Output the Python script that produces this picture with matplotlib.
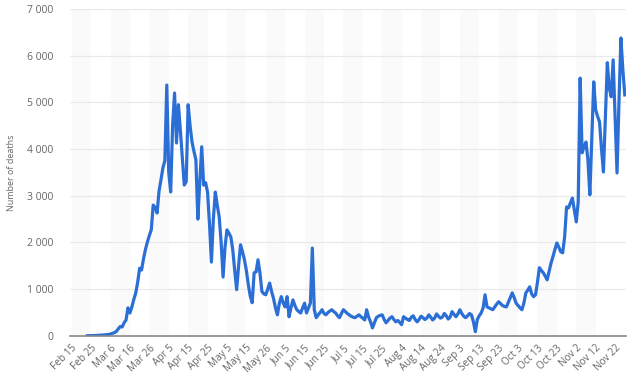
import matplotlib
matplotlib.use("Agg")
import matplotlib.pyplot as plt
import pandas as pd

# daily deaths, starting 2020-02-23
first_day = "2020-02-23"
deaths = [
    3, 5, 5, 6, 8, 10, 12, 15, 18, 22, 25, 30, 40, 55, 70, 95, 150, 200, 190, 280, 340,
    600, 490, 620, 780, 920, 1150, 1450, 1410, 1650, 1850, 2010, 2150, 2270, 2800, 2750,
    2630, 3100, 3340, 3600, 3750, 5370, 3500, 3080, 4500, 5200, 4130, 4950, 4400, 3800,
    3230, 3300, 4950, 4500, 4150, 3950, 3770, 2500, 3300, 4050, 3230, 3280, 3080, 2400,
    1580, 2500, 3080, 2800, 2550, 2000, 1260, 1900, 2270, 2200, 2120, 1840, 1400, 990,
    1500, 1950, 1800, 1630, 1400, 1100, 850, 710, 1350, 1370, 1630, 1350, 950, 900, 880,
    1000, 1130, 950, 800, 600, 450, 700, 840, 700, 620, 840, 410, 600, 770, 650, 560, 520,
    490, 600, 700, 490, 600, 700, 1880, 560, 390, 450, 500, 560, 480, 450, 500, 530, 560,
    520, 490, 430, 390, 480, 560, 520, 480, 450, 420, 400, 390, 420, 450, 410, 380, 340,
    560, 400, 300, 170, 280, 390, 420, 440, 450, 350, 280, 330, 380, 410, 350, 300, 330,
    290, 240, 410, 380, 350, 330, 400, 430, 350, 300, 350, 420, 390, 350, 380, 450, 400,
    340, 380, 470, 420, 380, 400, 480, 430, 360, 400, 520, 460, 410, 470, 560, 480, 420,
    390, 430, 480, 450, 300, 90, 350, 430, 490, 600, 880, 620, 600, 580, 560, 620, 680,
    730, 690, 650, 630, 620, 720, 820, 920, 820, 700, 650, 600, 560, 700, 920, 980, 1050,
    900, 840, 880, 1150, 1460, 1400, 1350, 1280, 1200, 1380, 1560, 1700, 1850, 1990, 1900,
    1800, 1780, 2120, 2760, 2740, 2850, 2950, 2700, 2440, 2870, 5520, 3920, 4050, 4150,
    3770, 3020, 4200, 5440, 4840, 4700, 4580, 4000, 3510, 4700, 5850, 5300, 5120, 5910,
    4700, 3490, 5000, 6380, 5700, 5160,
]

tick_start = "2020-02-15"
tick_labels = [
    "Feb 15", "Feb 25", "Mar 6", "Mar 16", "Mar 26", "Apr 5", "Apr 15", "Apr 25",
    "May 5", "May 15", "May 26", "Jun 5", "Jun 15", "Jun 25", "Jul 5", "Jul 15",
    "Jul 25", "Aug 4", "Aug 14", "Aug 24", "Sep 3", "Sep 13", "Sep 23", "Oct 3",
    "Oct 13", "Oct 23", "Nov 2", "Nov 12", "Nov 22",
]
y_ticks = [0, 1000, 2000, 3000, 4000, 5000, 6000, 7000]

plt.rcParams["font.family"] = ["Open Sans", "DejaVu Sans"]
grey = "#666666"

dates = pd.date_range(first_day, periods=len(deaths), freq="D")
ticks = pd.date_range(tick_start, periods=len(tick_labels), freq="10D")

fig = plt.figure(figsize=(6.4, 3.91), dpi=100, facecolor="white")
ax = fig.add_axes([0.109, 0.141, 0.869, 0.836])

# alternating background bands, very faint
for i in range(0, len(ticks) - 1, 2):
    ax.axvspan(ticks[i], ticks[i + 1], color="#fafafa", zorder=0, lw=0)

for v in y_ticks[1:]:
    ax.axhline(v, color="#e9e9e9", lw=0.9, zorder=1)

ax.plot(dates, deaths, color="#2b6fd6", lw=2.3, solid_joinstyle="round", zorder=3)

ax.set_xlim(ticks[0] - pd.Timedelta(days=1), dates[-1] + pd.Timedelta(hours=14))
ax.set_ylim(0, 7000)

ax.set_yticks(y_ticks)
ax.set_yticklabels([f"{v:,}".replace(",", " ") for v in y_ticks])
ax.set_xticks(ticks)
ax.set_xticklabels(tick_labels, rotation=45, ha="right", rotation_mode="anchor")

ax.tick_params(axis="y", length=0, pad=12, labelsize=7.5, labelcolor=grey)
ax.tick_params(axis="x", length=0, pad=5, labelsize=7.2, labelcolor=grey)

for side in ("top", "right", "left"):
    ax.spines[side].set_visible(False)
ax.spines["bottom"].set_color("#888888")
ax.spines["bottom"].set_linewidth(1.2)
ax.spines["bottom"].set_zorder(4)

ax.set_ylabel("Number of deaths", fontsize=6.5, color=grey, labelpad=8)
ax.set_facecolor("white")

fig.savefig("out.png", dpi=100, facecolor="white")
